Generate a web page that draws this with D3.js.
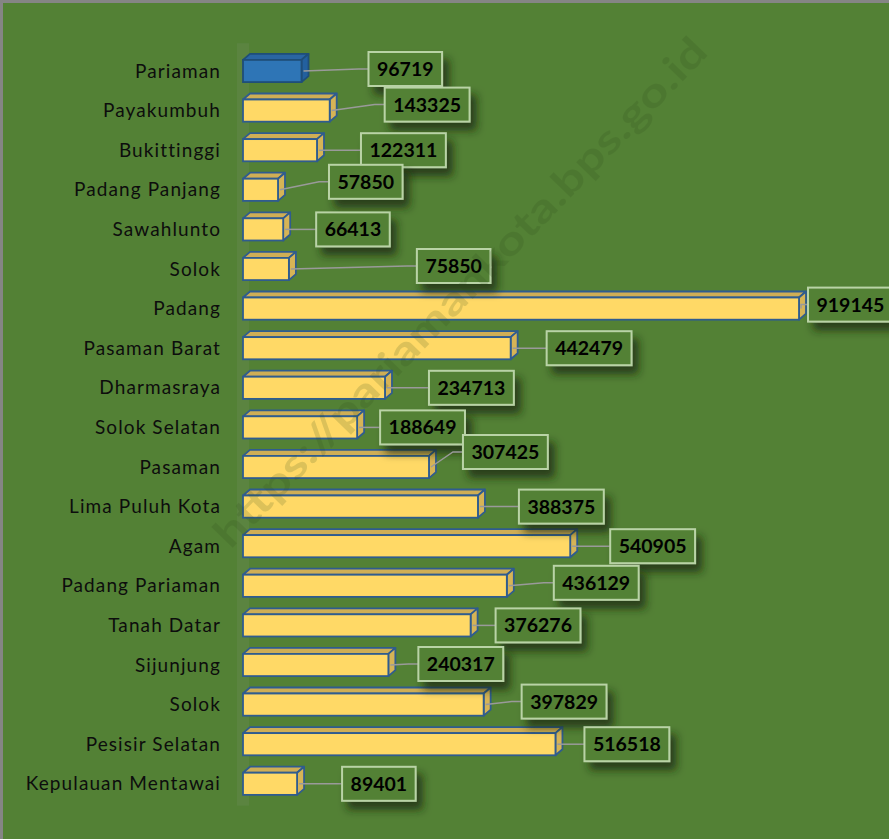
<!DOCTYPE html>
<html>
<head>
<meta charset="utf-8">
<script src="https://cdn.jsdelivr.net/npm/d3@7"></script>
<style>
  html, body { margin: 0; padding: 0; background: #538135; }
  #chart { width: 889px; height: 839px; }
  svg { display: block; }
</style>
</head>
<body>
<div id="chart"></div>
<script>
// data
const categories = [
  'Pariaman', 'Payakumbuh', 'Bukittinggi', 'Padang Panjang', 'Sawahlunto',
  'Solok', 'Padang', 'Pasaman Barat', 'Dharmasraya', 'Solok Selatan',
  'Pasaman', 'Lima Puluh Kota', 'Agam', 'Padang Pariaman', 'Tanah Datar',
  'Sijunjung', 'Solok ', 'Pesisir Selatan', 'Kepulauan Mentawai'
];
const populations = [
  96719, 143325, 122311, 57850, 66413,
  75850, 919145, 442479, 234713, 188649,
  307425, 388375, 540905, 436129, 376276,
  240317, 397829, 516518, 89401
];
const highlighted = ['Pariaman'];
const watermark = 'https://pariamankota.bps.go.id';

// hand-placed data label nudges [dx, dy] (like moved Excel labels)
const labelNudges = [
  [60, -2], [48, -6], [37, 0], [44, -8], [26, 0],
  [121, -3], [2, -4], [29, 0], [37, 0], [16, 0],
  [27, -15], [34, 0], [33, 0], [40, -3], [18, 0],
  [23, -1], [31, -3], [22, 0], [38, 0]
];

const rows = categories.map((c, i) => ({
  name: c,
  value: populations[i],
  nudge: labelNudges[i],
  hi: highlighted.includes(c)
}));

// dimensions
const WIDTH = 889;
const HEIGHT = 839;
const DEPTH_X = 7;
const DEPTH_Y = 6;
const BOX_H = 34;
const BOX_PAD = 8;

const $svg = d3.select('#chart').append('svg')
  .attr('width', WIDTH)
  .attr('height', HEIGHT);

const defs = $svg.append('defs');
const shadow = defs.append('filter').attr('id', 'box-shadow')
  .attr('x', '-30%').attr('y', '-40%').attr('width', '170%').attr('height', '200%');
shadow.append('feDropShadow')
  .attr('dx', 6).attr('dy', 8).attr('stdDeviation', 4)
  .attr('flood-color', '#1c2b12').attr('flood-opacity', 0.75);

// background + frame
$svg.append('rect').attr('width', WIDTH).attr('height', HEIGHT).attr('fill', '#538135');
$svg.append('path')
  .attr('d', `M1.5,${HEIGHT} V1.5 H${WIDTH}`)
  .attr('fill', 'none').attr('stroke', '#858585').attr('stroke-width', 3);

// scales
const y = d3.scaleBand()
  .domain(categories)
  .range([51.2, 803.6])
  .paddingInner(0.44)
  .paddingOuter(0.22);
const x = d3.scaleLinear()
  .domain([0, d3.max(populations)])
  .range([243, 799]);

// 3d wall strip behind the bars
$svg.append('rect')
  .attr('x', x(0) - 6).attr('y', y.range()[0] - 8)
  .attr('width', 12).attr('height', y.range()[1] - y.range()[0] + 10)
  .attr('fill', '#6b8a55').attr('opacity', 0.35);

// category labels
$svg.append('g').attr('class', 'g-cats')
  .selectAll('text')
  .data(rows)
  .join('text')
  .attr('x', 221)
  .attr('y', (d) => y(d.name) + y.bandwidth() / 2)
  .attr('dy', '0.35em')
  .attr('text-anchor', 'end')
  .attr('font-family', 'Lato, "Open Sans", sans-serif')
  .attr('font-size', 19)
  .attr('letter-spacing', 1.1)
  .attr('fill', '#0d0d0d')
  .text((d) => d.name.trim());

// bars
const colors = (d) => (d.hi
  ? { front: '#2e75b6', top: '#2a65a3', side: '#23609e', stroke: '#1f4e79' }
  : { front: '#ffd966', top: '#cfae55', side: '#d6b456', stroke: '#2f5c8f' });

const $bars = $svg.append('g').attr('class', 'g-bars')
  .selectAll('g')
  .data(rows)
  .join('g');

$bars.each(function (d) {
  const g = d3.select(this);
  const c = colors(d);
  const x0 = x(0);
  const x1 = x(d.value);
  const y0 = y(d.name);
  const h = y.bandwidth();
  g.append('path')
    .attr('d', `M${x0},${y0} L${x0 + DEPTH_X},${y0 - DEPTH_Y} L${x1 + DEPTH_X},${y0 - DEPTH_Y} L${x1},${y0} Z`)
    .attr('fill', c.top).attr('stroke', c.stroke).attr('stroke-width', 1.8).attr('stroke-linejoin', 'round');
  g.append('path')
    .attr('d', `M${x1},${y0} L${x1 + DEPTH_X},${y0 - DEPTH_Y} L${x1 + DEPTH_X},${y0 + h - DEPTH_Y} L${x1},${y0 + h} Z`)
    .attr('fill', c.side).attr('stroke', c.stroke).attr('stroke-width', 1.8).attr('stroke-linejoin', 'round');
  g.append('rect')
    .attr('x', x0).attr('y', y0)
    .attr('width', x1 - x0).attr('height', h)
    .attr('fill', c.front).attr('stroke', c.stroke).attr('stroke-width', 1.8);
});

// data labels
const $labels = $svg.append('g').attr('class', 'g-labels')
  .selectAll('g')
  .data(rows)
  .join('g');

$labels.each(function (d) {
  const g = d3.select(this);
  const cy = y(d.name) + y.bandwidth() / 2;
  const xEnd = x(d.value) + DEPTH_X;
  const boxX = xEnd + d.nudge[0];
  const boxCy = cy + d.nudge[1];

  const txt = g.append('text')
    .attr('font-family', 'Lato, "Open Sans", sans-serif')
    .attr('font-weight', 700)
    .attr('font-size', 19.5)
    .attr('fill', '#000')
    .attr('dy', '0.36em')
    .text(d3.format('d')(d.value));
  const tw = txt.node().getComputedTextLength();
  const boxW = tw + BOX_PAD * 2 + 1;

  // leader line
  g.insert('polyline', 'text')
    .attr('points', [
      [x(d.value) + 2, cy],
      [Math.max(x(d.value) + 2, boxX - 10), boxCy],
      [boxX, boxCy]
    ].map((p) => p.join(',')).join(' '))
    .attr('fill', 'none').attr('stroke', '#9a9a9a').attr('stroke-width', 1.5);

  g.insert('rect', 'text')
    .attr('x', boxX).attr('y', boxCy - BOX_H / 2)
    .attr('width', boxW).attr('height', BOX_H)
    .attr('fill', '#538135')
    .attr('stroke', '#b9d3a6').attr('stroke-width', 2)
    .attr('filter', 'url(#box-shadow)');

  txt.attr('x', boxX + BOX_PAD + 0.5).attr('y', boxCy);
});

// watermark
$svg.append('text')
  .attr('transform', 'translate(460,292) rotate(-46)')
  .attr('text-anchor', 'middle')
  .attr('dy', '0.35em')
  .attr('font-family', 'Lato, "Open Sans", sans-serif')
  .attr('font-weight', 700)
  .attr('font-size', 40)
  .attr('textLength', 690)
  .attr('lengthAdjust', 'spacingAndGlyphs')
  .attr('fill', '#2d4a1a')
  .attr('opacity', 0.16)
  .text(watermark);
</script>
</body>
</html>
